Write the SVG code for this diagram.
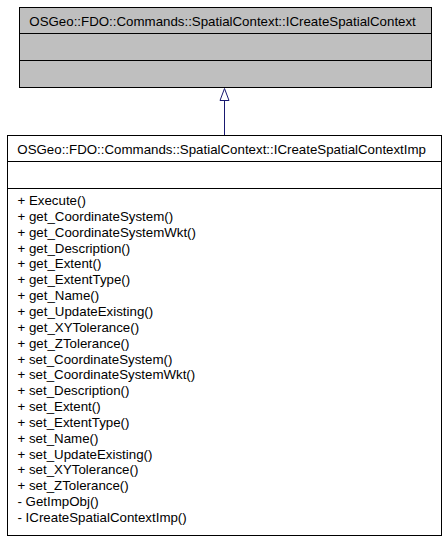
<svg xmlns="http://www.w3.org/2000/svg" width="448" height="541" viewBox="0 0 448 541">
<style>
  .box { stroke: #000; stroke-width: 1; }
  .sep { stroke: #000; stroke-width: 1; }
  text { font-family: "Liberation Sans", Arial, Helvetica, sans-serif; font-size: 13.3px; fill: #000; }
  .edge { stroke: #191970; stroke-width: 1; fill: none; }
</style>
<rect width="448" height="541" fill="#fff"/>
<g id="node-base">
  <rect class="box" x="19.5" y="7.5" width="412" height="80" fill="#bfbfbf"/>
  <line class="sep" x1="19.5" y1="33.5" x2="431.5" y2="33.5"/>
  <line class="sep" x1="19.5" y1="60.5" x2="431.5" y2="60.5"/>
  <text x="29.3" y="26">OSGeo::FDO::Commands::SpatialContext::ICreateSpatialContext</text>
</g>
<g id="node-imp">
  <rect class="box" x="7.5" y="135.5" width="434" height="400" fill="#fff"/>
  <line class="sep" x1="7.5" y1="161.5" x2="441.5" y2="161.5"/>
  <line class="sep" x1="7.5" y1="188.5" x2="441.5" y2="188.5"/>
  <text x="17.3" y="154">OSGeo::FDO::Commands::SpatialContext::ICreateSpatialContextImp</text>
  <text x="17.5" y="205">+ Execute()</text>
  <text x="17.5" y="220.85">+ get_CoordinateSystem()</text>
  <text x="17.5" y="236.7">+ get_CoordinateSystemWkt()</text>
  <text x="17.5" y="252.55">+ get_Description()</text>
  <text x="17.5" y="268.4">+ get_Extent()</text>
  <text x="17.5" y="284.25">+ get_ExtentType()</text>
  <text x="17.5" y="300.1">+ get_Name()</text>
  <text x="17.5" y="315.95">+ get_UpdateExisting()</text>
  <text x="17.5" y="331.8">+ get_XYTolerance()</text>
  <text x="17.5" y="347.65">+ get_ZTolerance()</text>
  <text x="17.5" y="363.5">+ set_CoordinateSystem()</text>
  <text x="17.5" y="379.35">+ set_CoordinateSystemWkt()</text>
  <text x="17.5" y="395.2">+ set_Description()</text>
  <text x="17.5" y="411.05">+ set_Extent()</text>
  <text x="17.5" y="426.9">+ set_ExtentType()</text>
  <text x="17.5" y="442.75">+ set_Name()</text>
  <text x="17.5" y="458.6">+ set_UpdateExisting()</text>
  <text x="17.5" y="474.45">+ set_XYTolerance()</text>
  <text x="17.5" y="490.3">+ set_ZTolerance()</text>
  <text x="17.5" y="506.15">- GetImpObj()</text>
  <text x="17.5" y="522">- ICreateSpatialContextImp()</text>
</g>
<g id="connectors">
  <line class="edge" x1="224.5" y1="135" x2="224.5" y2="100.5"/>
  <polygon class="edge" points="224.5,88.5 220,100.5 229,100.5" fill="#fff"/>
</g>
</svg>
